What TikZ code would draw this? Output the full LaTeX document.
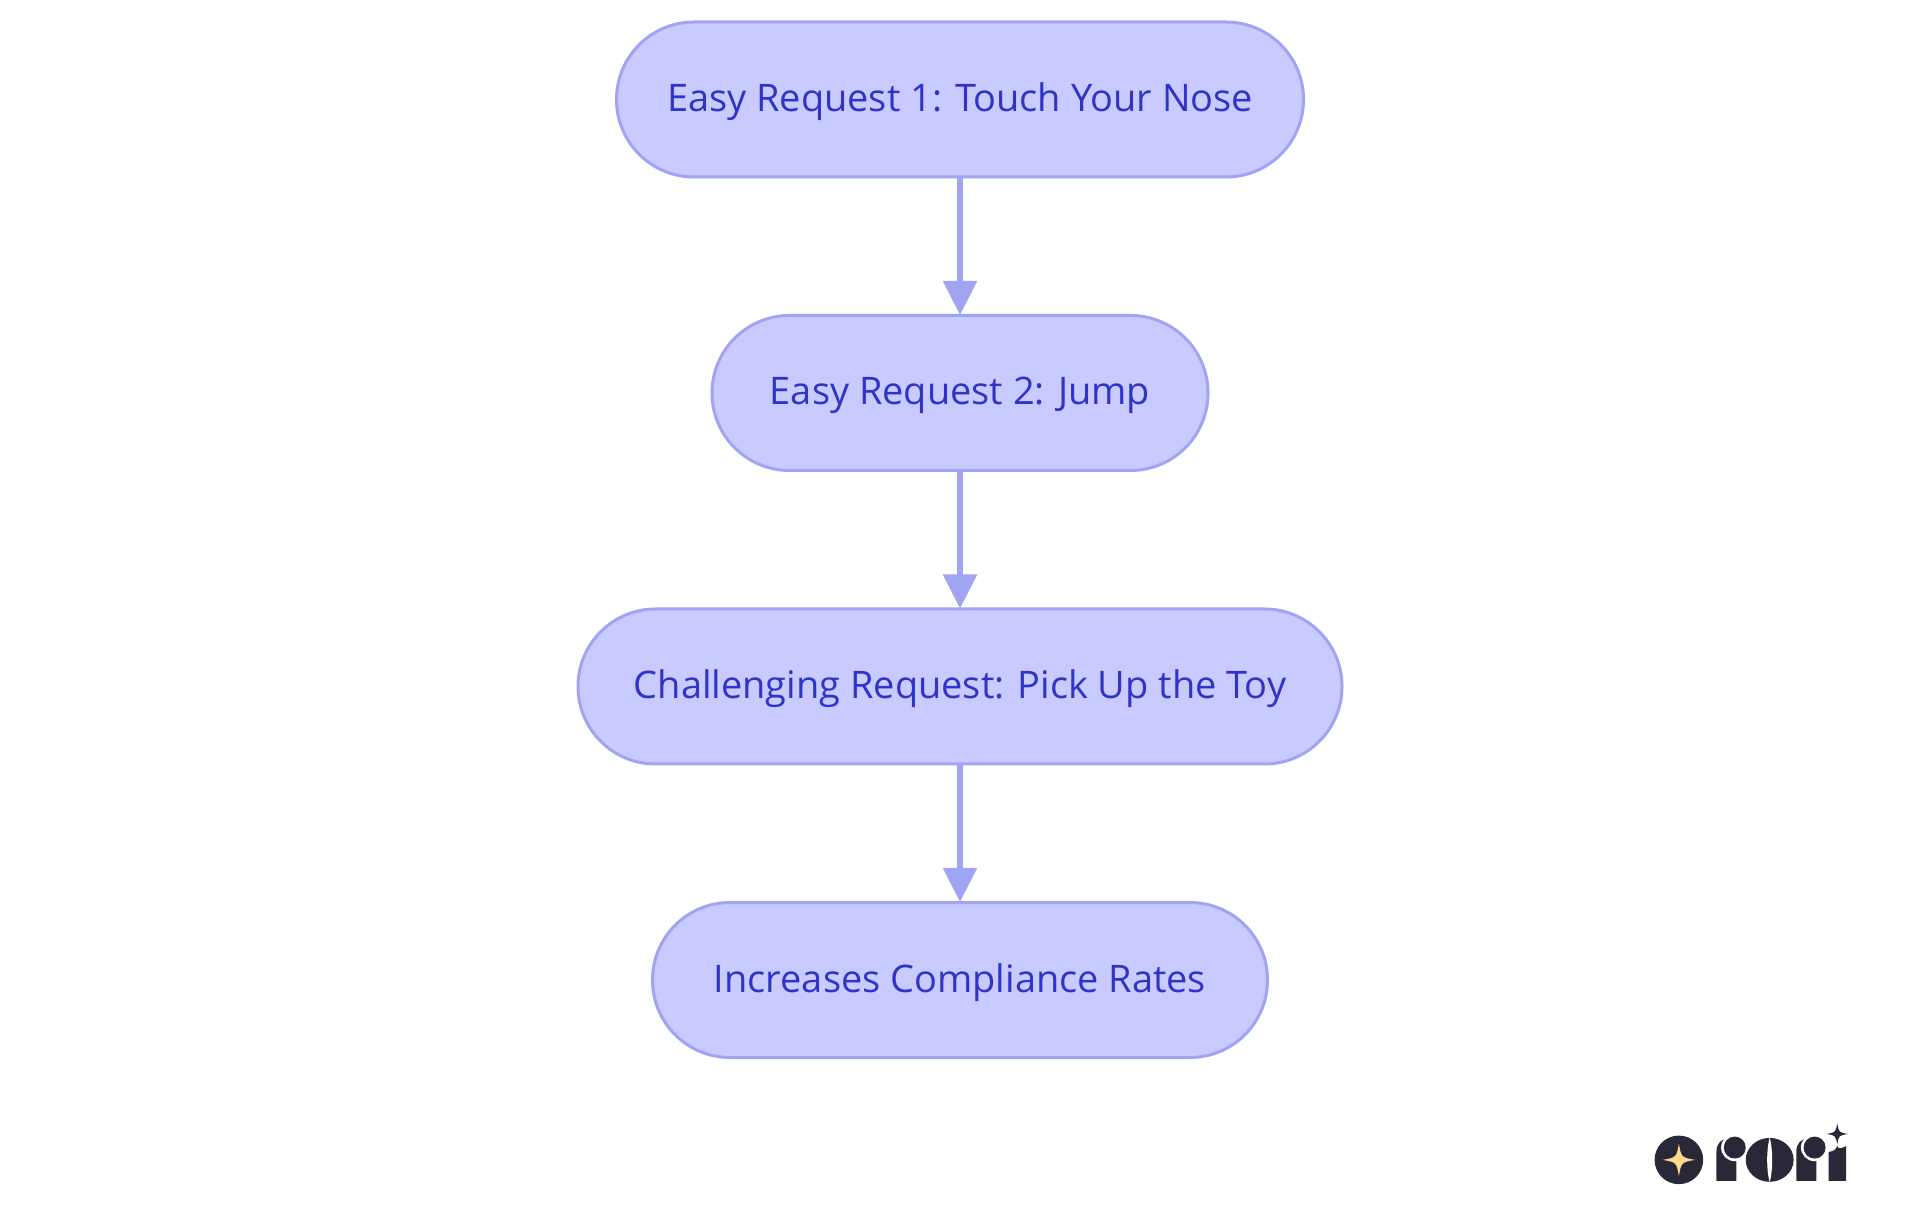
\documentclass[tikz,border=0pt]{standalone}
\usepackage{fontspec}
\setmainfont{Open Sans}
\definecolor{stepfill}{RGB}{201, 202, 255}
\definecolor{stepline}{RGB}{160, 164, 243}
\definecolor{steptext}{RGB}{47, 52, 200}
\definecolor{logodark}{RGB}{41, 40, 56}
\definecolor{logostar}{RGB}{255, 217, 138}
\usetikzlibrary{arrows.meta, positioning}
\tikzset{
  stepbox/.style={draw=stepline, fill=stepfill, line width=0.03cm, rounded corners=0.775cm, minimum height=1.55cm, inner sep=0pt, text=steptext, text height=0.32cm, text depth=0.08cm, font=\fontsize{10.8}{12}\selectfont},
  flowarrow/.style={draw=stepline, line width=0.055cm, shorten >=-0.01cm, -{Triangle[length=0.34cm, width=0.33cm]}}
}

\begin{document}
\begin{tikzpicture}
  \useasboundingbox (0, 0) rectangle (19.2, 12.15);
  \fill[white] (0, 0) rectangle (19.2, 12.15);

  % Steps
  \node[stepbox, minimum width=6.87cm] (touchnose) at (9.6, 11.155) {Easy Request 1: Touch Your Nose};
  \node[stepbox, minimum width=4.96cm] (jump) at (9.6, 8.22) {Easy Request 2: Jump};
  \node[stepbox, minimum width=7.64cm] (picktoy) at (9.6, 5.285) {Challenging Request: Pick Up the Toy};
  \node[stepbox, minimum width=6.15cm] (compliance) at (9.6, 2.35) {Increases Compliance Rates};

  % Arrows
  \draw[flowarrow] (touchnose) -- (jump);
  \draw[flowarrow] (jump) -- (picktoy);
  \draw[flowarrow] (picktoy) -- (compliance);

  % Logo
  \begin{scope}[shift={(16.2, 1.15)}, x=0.00333cm, y=-0.00333cm]
    \fill[logodark] (177, 180) circle (73);
    % first r
    \fill[logodark] (290, 243) -- (290, 155) .. controls (290, 130) and (305, 115) .. (330, 115) -- (350, 115) -- (350, 243) -- cycle;
    \fill[white] (345, 143) circle (41);
    \fill[logodark] (345, 143) circle (33);
    % o
    \fill[logodark] (450, 180) ellipse (72 and 66);
    \fill[white] (450, 112) .. controls (440, 150) and (440, 210) .. (450, 248) .. controls (460, 210) and (460, 150) .. (450, 112) -- cycle;
    % second r
    \fill[logodark] (530, 243) -- (530, 155) .. controls (530, 130) and (545, 115) .. (570, 115) -- (590, 115) -- (590, 243) -- cycle;
    \fill[white] (585, 143) circle (41);
    \fill[logodark] (585, 143) circle (33);
    % i
    \fill[logodark] (627, 243) -- (627, 156) .. controls (640, 155) and (650, 150) .. (653, 138) .. controls (656, 150) and (668, 145) .. (680, 138) -- (680, 243) -- cycle;
    % stars
    \foreach \cx/\cy/\rad/\col in {177/180/49/logostar, 653/102/32/logodark} {
      \fill[\col] (\cx, \cy-\rad) .. controls (\cx+0.15*\rad, \cy-0.15*\rad) .. (\cx+\rad, \cy) .. controls (\cx+0.15*\rad, \cy+0.15*\rad) .. (\cx, \cy+\rad) .. controls (\cx-0.15*\rad, \cy+0.15*\rad) .. (\cx-\rad, \cy) .. controls (\cx-0.15*\rad, \cy-0.15*\rad) .. (\cx, \cy-\rad) -- cycle;
    }
  \end{scope}
\end{tikzpicture}
\end{document}
